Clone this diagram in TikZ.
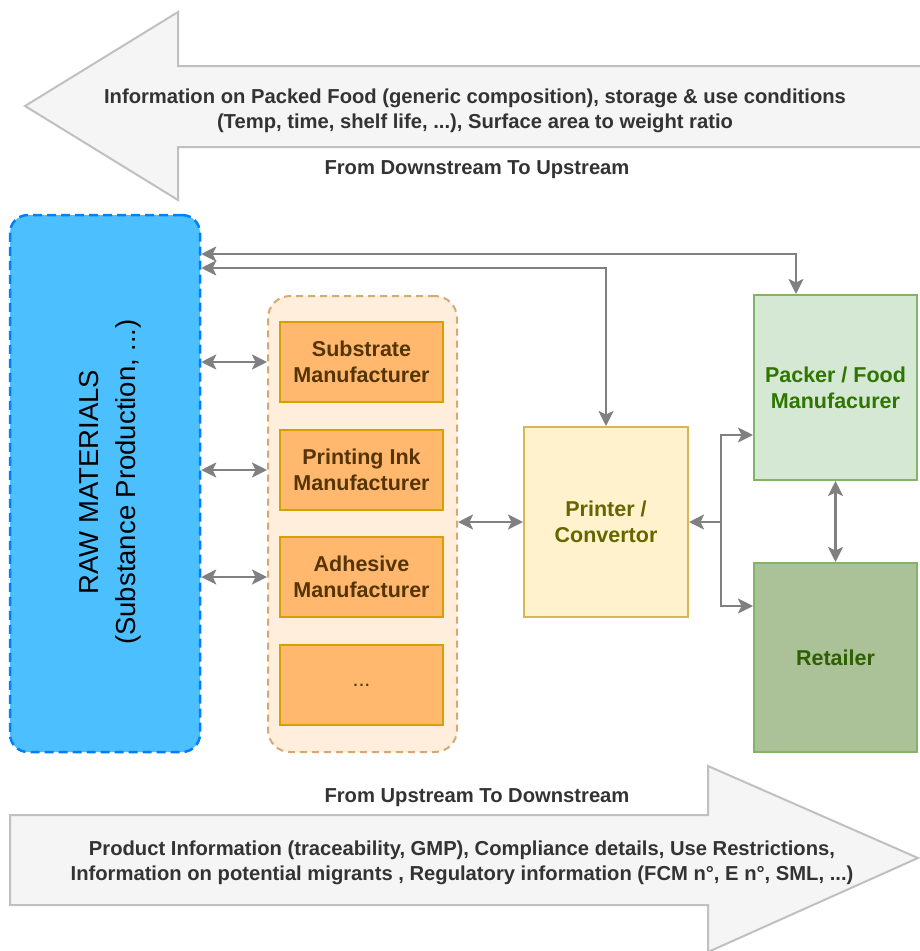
\documentclass[tikz,border=0pt]{standalone}
\usepackage{fontspec}
\setmainfont{Liberation Sans}
\usetikzlibrary{arrows.meta}
\definecolor{rawfill}{RGB}{76,192,255}
\definecolor{rawline}{RGB}{0,127,255}
\definecolor{contfill}{RGB}{255,238,220}
\definecolor{contline}{RGB}{215,168,115}
\definecolor{mfill}{RGB}{255,184,110}
\definecolor{mline}{RGB}{214,160,0}
\definecolor{mtext}{RGB}{85,52,5}
\definecolor{pfill}{RGB}{255,242,204}
\definecolor{pline}{RGB}{214,182,86}
\definecolor{ptext}{RGB}{102,102,0}
\definecolor{gfill}{RGB}{213,232,212}
\definecolor{gline}{RGB}{130,179,102}
\definecolor{gtext}{RGB}{45,118,0}
\definecolor{rfill}{RGB}{171,193,151}
\definecolor{rtext}{RGB}{45,96,0}
\definecolor{connc}{RGB}{128,128,128}
\definecolor{afill}{RGB}{245,245,245}
\definecolor{aline}{RGB}{192,192,192}
\definecolor{atext}{RGB}{51,51,51}
\tikzset{
  box/.style={draw, line width=2pt, inner sep=0pt, align=center,
    font=\fontsize{21.5}{26}\selectfont\bfseries},
  rawbox/.style={draw=rawline, fill=rawfill, line width=2.5pt, dash pattern=on 9pt off 5pt,
    rounded corners=18pt, minimum width=190pt, minimum height=537pt, inner sep=0pt},
  contbox/.style={draw=contline, fill=contfill, line width=2pt, dash pattern=on 7pt off 5pt,
    rounded corners=22pt, minimum width=189pt, minimum height=456pt, inner sep=0pt},
  mbox/.style={box, draw=mline, fill=mfill, text=mtext, minimum width=163pt, minimum height=80pt},
  pbox/.style={box, draw=pline, fill=pfill, text=ptext, minimum width=164pt, minimum height=190pt},
  gbox/.style={box, draw=gline, fill=gfill, text=gtext, minimum width=163pt, minimum height=185pt},
  rbox/.style={box, draw=gline, fill=rfill, text=rtext, minimum width=163pt, minimum height=189pt},
  conn/.style={draw=connc, line width=2.4pt, >={Stealth[length=15pt,width=15pt,inset=3.5pt]}, <->},
  conn1/.style={draw=connc, line width=2.4pt, >={Stealth[length=15pt,width=15pt,inset=3.5pt]}, ->},
  bigarrow/.style={draw=aline, fill=afill, line width=2pt, line join=miter},
  atxt/.style={text=atext, align=center, font=\fontsize{20.2}{25}\selectfont\bfseries, inner sep=0pt},
}
\begin{document}
\begin{tikzpicture}[x=1pt,y=-1pt]
\useasboundingbox (0,0) rectangle (920,951);
% big arrows
\draw[bigarrow] (935,66) -- (178,66) -- (178,12) -- (25,106) -- (178,200) -- (178,147) -- (935,147);
\draw[bigarrow] (10,815) -- (708,815) -- (708,766) -- (918,858) -- (708,952) -- (708,905) -- (10,905) -- cycle;
\node[atxt] (toptxt) at (475,111) {Information on Packed Food (generic composition), storage \& use conditions\\(Temp, time, shelf life, ...), Surface area to weight ratio};
\node[atxt] (toplbl) at (477,170) {From Downstream To Upstream};
\node[atxt] (bottxt) at (462,863) {Product Information (traceability, GMP), Compliance details, Use Restrictions,\\Information on potential migrants , Regulatory information (FCM n°, E n°, SML, ...)};
\node[atxt] (botlbl) at (477,798) {From Upstream To Downstream};
% raw materials
\node[rawbox] (raw) at (105,483.5) {};
\node[rotate=90, align=center, inner sep=0pt, font=\fontsize{27.5}{37}\selectfont] (rawtxt) at (110,482) {RAW MATERIALS\\(Substance Production, ...)};
% container
\node[contbox] (cont) at (362.5,524) {};
\node[mbox] (sub) at (361.5,362) {Substrate\\Manufacturer};
\node[mbox] (ink) at (361.5,470) {Printing Ink\\Manufacturer};
\node[mbox] (adh) at (361.5,577) {Adhesive\\Manufacturer};
\node[mbox, font=\fontsize{21.5}{26}\selectfont] (etc) at (361.5,685) {...};
% printer
\node[pbox] (print) at (606,522) {Printer /\\Convertor};
% packer, retailer
\node[gbox] (pack) at (835.5,387.5) {Packer / Food\\Manufacurer};
\node[rbox] (ret) at (835.5,657.5) {Retailer};
% connectors
\coordinate (j1) at (796,254);
\coordinate (j2) at (606,268);
\coordinate (j3) at (721,522);
\draw[conn] (raw.east |- j1) -- (j1) -- (j1 |- pack.north);
\draw[conn] (raw.east |- j2) -- (j2) -- (j2 |- print.north);
\draw[conn] (raw.east |- sub) -- (cont.west |- sub);
\draw[conn] (raw.east |- ink) -- (cont.west |- ink);
\draw[conn] (raw.east |- adh) -- (cont.west |- adh);
\draw[conn] (cont.east |- print) -- (print.west);
\draw[conn1] (j3) -- (print.east);
\draw[conn1] (j3) |- ([yshift=46pt]pack.south west);
\draw[conn1] (j3) |- ([yshift=-44pt]ret.north west);
\draw[conn] (pack.south) -- (ret.north);
\end{tikzpicture}
\end{document}
